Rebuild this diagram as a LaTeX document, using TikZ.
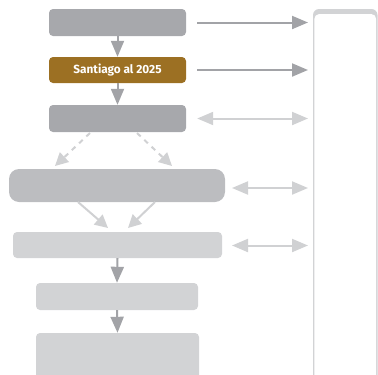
\documentclass[tikz,border=0pt]{standalone}
\usepackage{fontspec}
\setmainfont{Fira Sans}
\usetikzlibrary{arrows.meta}
\definecolor{gdark}{HTML}{A7A8AC}
\definecolor{gmid}{HTML}{BCBDC0}
\definecolor{glight}{HTML}{D2D3D5}
\definecolor{brown}{HTML}{9C7023}
\definecolor{adark}{HTML}{A2A3A7}
\definecolor{alight}{HTML}{D0D1D3}
\tikzset{
  box/.style={rectangle, rounded corners=4pt, inner sep=0pt, draw=none},
  darr/.style={-{Triangle[length=16pt,width=13pt]}, line width=2pt, draw=adark},
  larr/.style={-{Triangle[length=16pt,width=13pt]}, line width=2pt, draw=alight},
  dblarr/.style={{Triangle[length=16pt,width=13pt]}-{Triangle[length=16pt,width=13pt]}, line width=2pt, draw=alight},
  diag/.style={-{Triangle[length=13pt,width=13pt]}, line width=2pt, draw=alight},
}
\begin{document}
\begin{tikzpicture}[x=1pt,y=-1pt]
\useasboundingbox (0,0) rectangle (378,375);
\begin{scope}
\clip (0,0) rectangle (378,375);
% right panel
\fill[glight, rounded corners=6pt] (313,9) rectangle (377.5,390);
\fill[white, rounded corners=5pt] (314.3,14) rectangle (376.2,395);
% boxes
\node[box, fill=gdark, minimum width=137pt, minimum height=27pt] (b1) at (117.5,22.5) {};
\node[box, fill=brown, minimum width=137pt, minimum height=26pt, text=white, font=\fontsize{11.8pt}{13pt}\selectfont\bfseries] (b2) at (117.5,70) {Santiago al 2025};
\node[box, fill=gdark, minimum width=137pt, minimum height=27pt] (b3) at (117.5,118.5) {};
\node[box, fill=gmid, rounded corners=10pt, minimum width=216pt, minimum height=33pt] (b4) at (117,185.5) {};
\node[box, fill=glight, minimum width=209pt, minimum height=26pt] (b5) at (117.5,245) {};
\node[box, fill=glight, minimum width=162pt, minimum height=27pt] (b6) at (117,296.5) {};
\node[box, fill=glight, minimum width=163pt, minimum height=50pt] (b7) at (117.5,358) {};
\end{scope}
% anchor coordinates
\coordinate (p1) at (308,22.5);
\coordinate (p2) at (308,70);
\coordinate (p3) at (308,118.5);
\coordinate (p4) at (308,188);
\coordinate (p5) at (308,245.5);
\coordinate (s4) at (232,188);
\coordinate (s5) at (232,245.5);
% vertical arrows
\draw[darr] (b1.south) -- (b2.north);
\draw[darr] (b2.south) -- (b3.north);
\draw[darr] (b5.south) -- (b6.north);
\draw[darr] (b6.south) -- (b7.north);
% right arrows
\draw[darr] ([xshift=11pt]b1.east) -- (p1);
\draw[darr] ([xshift=11pt]b2.east) -- (p2);
\draw[dblarr] ([xshift=11pt]b3.east) -- (p3);
\draw[dblarr] (s4) -- (p4);
\draw[dblarr] (s5) -- (p5);
% dashed diagonals
\coordinate (d1) at (90,133);
\coordinate (d2) at (137,133);
\draw[diag, dash pattern=on 5pt off 5pt] (d1) -- (55,166);
\draw[diag, dash pattern=on 5pt off 5pt] (d2) -- (172,166);
% box4 -> box5 diagonals
\coordinate (e1) at (78,202);
\coordinate (e2) at (155,202);
\draw[diag] (e1) -- (108,228);
\draw[diag] (e2) -- (128,228);
\end{tikzpicture}
\end{document}
